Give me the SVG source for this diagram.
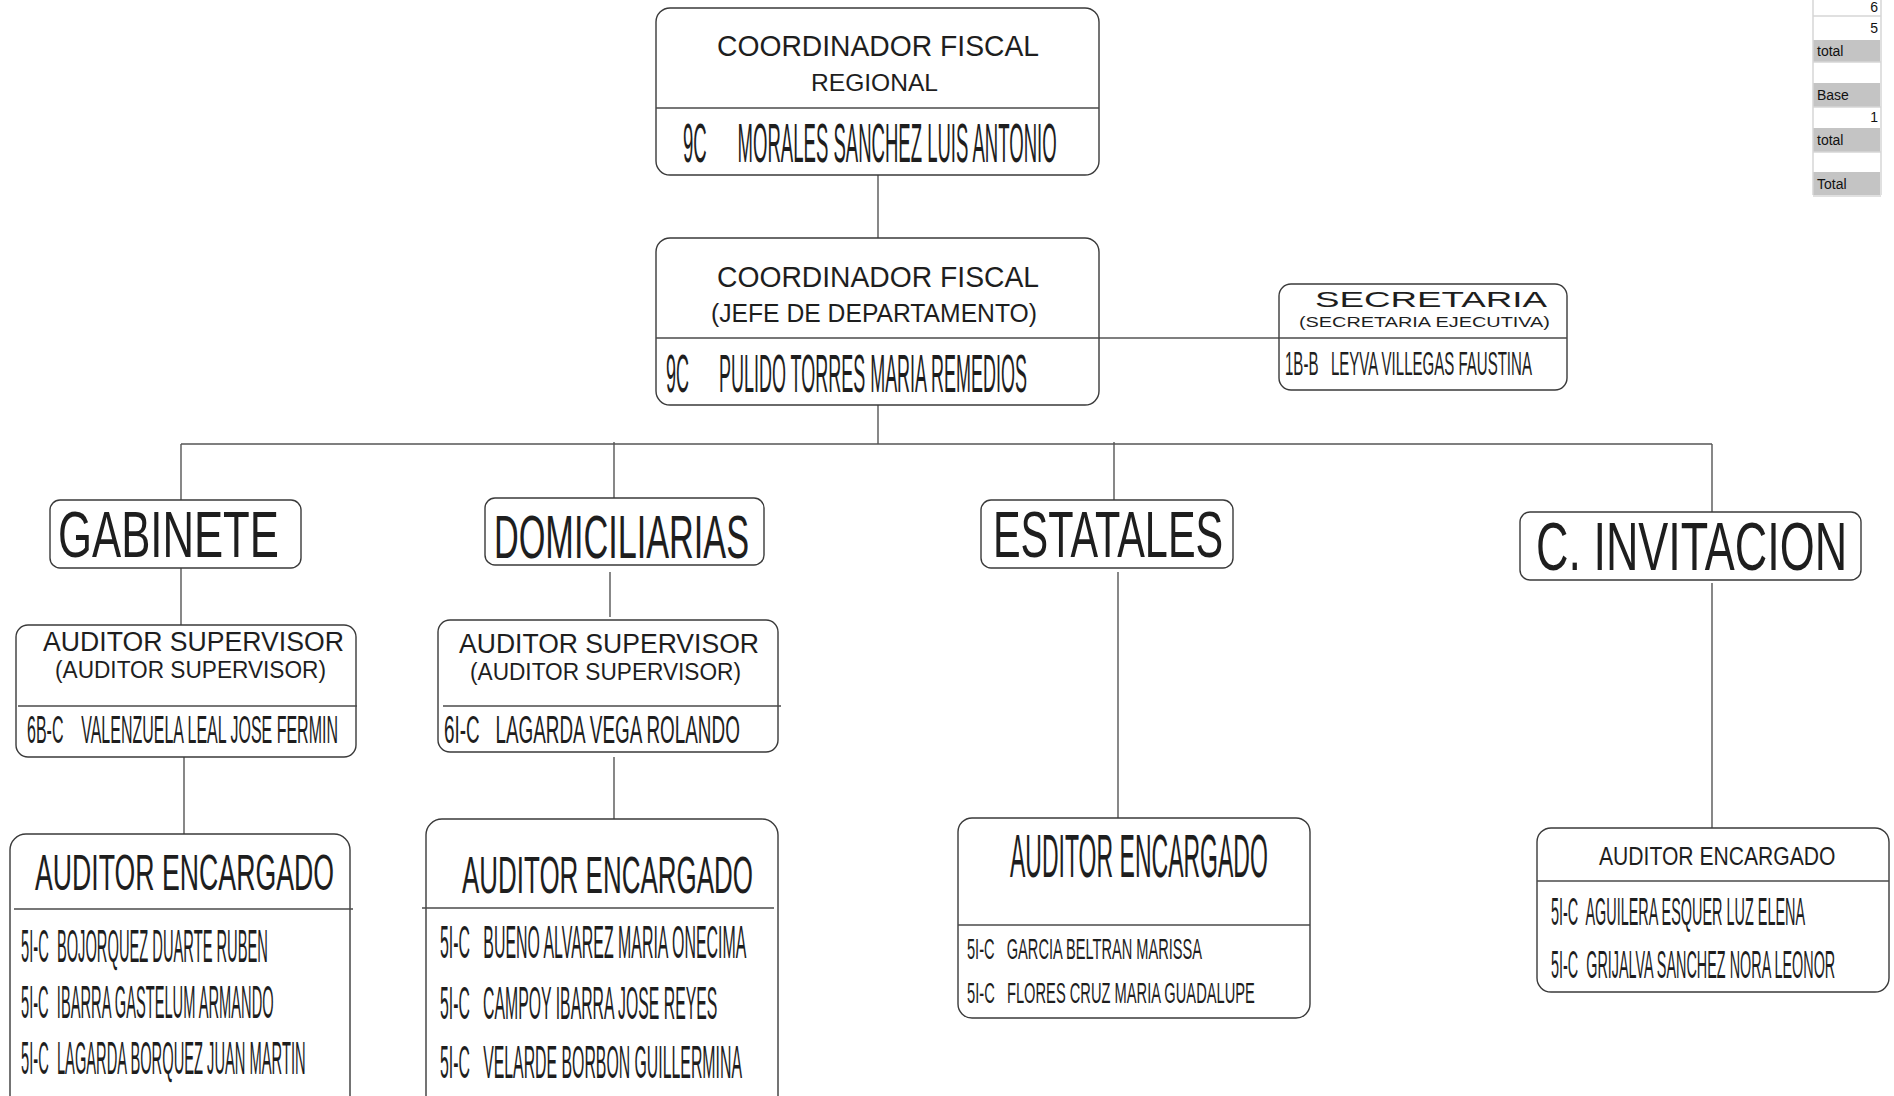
<svg xmlns="http://www.w3.org/2000/svg" width="1894" height="1096" viewBox="0 0 1894 1096">
<style>
.box{fill:#fff;stroke:#3a3a3a;stroke-width:1.4}
.div{stroke:#4a4a4a;stroke-width:1.4;fill:none}
.con{stroke:#555;stroke-width:1.4;fill:none}
text{font-family:"Liberation Sans",Arial,sans-serif;fill:#1e1e1e}
.tb{font-size:14px;fill:#111}
.gray{fill:#c4c4c4}
.grid{stroke:#d6d6d6;stroke-width:1.5;fill:none}
</style>
<rect width="1894" height="1096" fill="#fff"/>

<g id="connectors">
<line class="con" x1="878" y1="175" x2="878" y2="238"/>
<line class="con" x1="1099" y1="338" x2="1279" y2="338"/>
<line class="con" x1="878" y1="405" x2="878" y2="444"/>
<line class="con" x1="181" y1="444" x2="1712" y2="444"/>
<line class="con" x1="181" y1="444" x2="181" y2="500"/>
<line class="con" x1="614" y1="442" x2="614" y2="503"/>
<line class="con" x1="1114" y1="442" x2="1114" y2="503"/>
<line class="con" x1="1712" y1="444" x2="1712" y2="512"/>
<line class="con" x1="181" y1="568" x2="181" y2="625"/>
<line class="con" x1="610" y1="572" x2="610" y2="617"/>
<line class="con" x1="1118" y1="572" x2="1118" y2="818"/>
<line class="con" x1="1712" y1="583" x2="1712" y2="828"/>
<line class="con" x1="184" y1="752" x2="184" y2="834"/>
<line class="con" x1="614" y1="757" x2="614" y2="819"/>
</g>

<g id="table">
<rect class="gray" x="1813" y="40" width="67" height="22"/>
<rect class="gray" x="1813" y="83" width="67" height="24"/>
<rect class="gray" x="1813" y="128" width="67" height="24"/>
<rect class="gray" x="1813" y="172" width="67" height="23"/>
<line class="grid" x1="1813" y1="0" x2="1813" y2="195"/>
<line class="grid" x1="1881" y1="0" x2="1881" y2="195"/>
<line class="grid" x1="1813" y1="16" x2="1881" y2="16"/>
<line class="grid" x1="1813" y1="62" x2="1881" y2="62"/>
<line class="grid" x1="1813" y1="107" x2="1881" y2="107"/>
<line class="grid" x1="1813" y1="152" x2="1881" y2="152"/>
<line class="grid" x1="1813" y1="196" x2="1881" y2="196"/>
<text class="tb" x="1878" y="12" text-anchor="end">6</text>
<text class="tb" x="1878" y="33" text-anchor="end">5</text>
<text class="tb" x="1817" y="56">total</text>
<text class="tb" x="1817" y="100">Base</text>
<text class="tb" x="1878" y="122" text-anchor="end">1</text>
<text class="tb" x="1817" y="145">total</text>
<text class="tb" x="1817" y="189">Total</text>
</g>

<g id="coord-regional">
<rect class="box" x="656" y="8" width="443" height="167" rx="14"/>
<line class="div" x1="656" y1="108" x2="1099" y2="108"/>
<text x="717" y="56" font-size="30" textLength="322" lengthAdjust="spacingAndGlyphs">COORDINADOR FISCAL</text>
<text x="811" y="91" font-size="24" textLength="127" lengthAdjust="spacingAndGlyphs">REGIONAL</text>
<text xml:space="preserve" transform="translate(683,162) scale(0.336,1)" font-size="55" textLength="1112" lengthAdjust="spacingAndGlyphs">9C      MORALES SANCHEZ LUIS ANTONIO</text>
</g>

<g id="coord-jefe">
<rect class="box" x="656" y="238" width="443" height="167" rx="14"/>
<line class="div" x1="656" y1="338" x2="1099" y2="338"/>
<text x="717" y="287" font-size="30" textLength="322" lengthAdjust="spacingAndGlyphs">COORDINADOR FISCAL</text>
<text x="711" y="322" font-size="26" textLength="326" lengthAdjust="spacingAndGlyphs">(JEFE DE DEPARTAMENTO)</text>
<text xml:space="preserve" transform="translate(666,392) scale(0.3315,1)" font-size="54" textLength="1089" lengthAdjust="spacingAndGlyphs">9C      PULIDO TORRES MARIA REMEDIOS</text>
</g>

<g id="secretaria">
<rect class="box" x="1279" y="284" width="288" height="106" rx="12"/>
<line class="div" x1="1279" y1="338" x2="1567" y2="338"/>
<text transform="translate(1315,307) scale(1.6,1)" font-size="22" textLength="145" lengthAdjust="spacingAndGlyphs">SECRETARIA</text>
<text transform="translate(1299,327) scale(1.287,1)" font-size="15" textLength="195" lengthAdjust="spacingAndGlyphs">(SECRETARIA EJECUTIVA)</text>
<text xml:space="preserve" transform="translate(1285,375) scale(0.437,1)" font-size="34" textLength="565" lengthAdjust="spacingAndGlyphs">1B-B   LEYVA VILLEGAS FAUSTINA</text>
</g>

<g id="gabinete">
<rect class="box" x="50" y="500" width="251" height="68" rx="10"/>
<text transform="translate(58,557) scale(0.682,1)" font-size="64" textLength="324" lengthAdjust="spacingAndGlyphs">GABINETE</text>
</g>

<g id="domiciliarias">
<rect class="box" x="485" y="498" width="279" height="67" rx="10"/>
<text transform="translate(494,558) scale(0.552,1)" font-size="62" textLength="462" lengthAdjust="spacingAndGlyphs">DOMICILIARIAS</text>
</g>

<g id="estatales">
<rect class="box" x="981" y="500" width="252" height="68" rx="10"/>
<text transform="translate(993,557) scale(0.622,1)" font-size="64" textLength="370" lengthAdjust="spacingAndGlyphs">ESTATALES</text>
</g>

<g id="invitacion">
<rect class="box" x="1520" y="512" width="341" height="68" rx="10"/>
<text transform="translate(1536,570) scale(0.635,1)" font-size="68" textLength="490" lengthAdjust="spacingAndGlyphs">C. INVITACION</text>
</g>

<g id="supervisor-gabinete">
<rect class="box" x="16" y="625" width="340" height="132" rx="12"/>
<line class="div" x1="18" y1="706" x2="357" y2="706"/>
<text x="43" y="651" font-size="27" textLength="301" lengthAdjust="spacingAndGlyphs">AUDITOR SUPERVISOR</text>
<text x="55" y="678" font-size="23" textLength="271" lengthAdjust="spacingAndGlyphs">(AUDITOR SUPERVISOR)</text>
<text xml:space="preserve" transform="translate(27,743) scale(0.4065,1)" font-size="39" textLength="765" lengthAdjust="spacingAndGlyphs">6B-C    VALENZUELA LEAL JOSE FERMIN</text>
</g>

<g id="supervisor-domiciliarias">
<rect class="box" x="438" y="620" width="340" height="132" rx="12"/>
<line class="div" x1="443" y1="706" x2="781" y2="706"/>
<text x="459" y="653" font-size="27" textLength="300" lengthAdjust="spacingAndGlyphs">AUDITOR SUPERVISOR</text>
<text x="470" y="680" font-size="23" textLength="271" lengthAdjust="spacingAndGlyphs">(AUDITOR SUPERVISOR)</text>
<text xml:space="preserve" transform="translate(444,743) scale(0.481,1)" font-size="39" textLength="615" lengthAdjust="spacingAndGlyphs">6I-C   LAGARDA VEGA ROLANDO</text>
</g>

<g id="encargado-gabinete">
<rect class="box" x="10" y="834" width="340" height="280" rx="16"/>
<line class="div" x1="14" y1="909" x2="353" y2="909"/>
<text transform="translate(35,890) scale(0.533,1)" font-size="50" textLength="561" lengthAdjust="spacingAndGlyphs">AUDITOR ENCARGADO</text>
<text xml:space="preserve" transform="translate(21,962) scale(0.319,1)" font-size="46" textLength="774" lengthAdjust="spacingAndGlyphs">5I-C  BOJORQUEZ DUARTE RUBEN</text>
<text xml:space="preserve" transform="translate(21,1018) scale(0.317,1)" font-size="46" textLength="797" lengthAdjust="spacingAndGlyphs">5I-C  IBARRA GASTELUM ARMANDO</text>
<text xml:space="preserve" transform="translate(21,1074) scale(0.318,1)" font-size="46" textLength="895" lengthAdjust="spacingAndGlyphs">5I-C  LAGARDA BORQUEZ JUAN MARTIN</text>
</g>

<g id="encargado-domiciliarias">
<rect class="box" x="426" y="819" width="352" height="295" rx="16"/>
<line class="div" x1="422" y1="908" x2="774" y2="908"/>
<text transform="translate(462,893) scale(0.499,1)" font-size="52" textLength="583" lengthAdjust="spacingAndGlyphs">AUDITOR ENCARGADO</text>
<text xml:space="preserve" transform="translate(440,958) scale(0.334,1)" font-size="47" textLength="917" lengthAdjust="spacingAndGlyphs">5I-C   BUENO ALVAREZ MARIA ONECIMA</text>
<text xml:space="preserve" transform="translate(440,1019) scale(0.335,1)" font-size="47" textLength="828" lengthAdjust="spacingAndGlyphs">5I-C   CAMPOY IBARRA JOSE REYES</text>
<text xml:space="preserve" transform="translate(440,1078) scale(0.337,1)" font-size="47" textLength="896" lengthAdjust="spacingAndGlyphs">5I-C   VELARDE BORBON GUILLERMINA</text>
</g>

<g id="encargado-estatales">
<rect class="box" x="958" y="818" width="352" height="200" rx="14"/>
<line class="div" x1="958" y1="925" x2="1310" y2="925"/>
<text transform="translate(1010,877) scale(0.377,1)" font-size="61" textLength="684" lengthAdjust="spacingAndGlyphs">AUDITOR ENCARGADO</text>
<text xml:space="preserve" transform="translate(967,959) scale(0.5,1)" font-size="29" textLength="470" lengthAdjust="spacingAndGlyphs">5I-C   GARCIA BELTRAN MARISSA</text>
<text xml:space="preserve" transform="translate(967,1003) scale(0.505,1)" font-size="29" textLength="570" lengthAdjust="spacingAndGlyphs">5I-C   FLORES CRUZ MARIA GUADALUPE</text>
</g>

<g id="encargado-invitacion">
<rect class="box" x="1537" y="828" width="352" height="164" rx="14"/>
<line class="div" x1="1537" y1="881" x2="1889" y2="881"/>
<text transform="translate(1599,865) scale(0.81,1)" font-size="26" textLength="292" lengthAdjust="spacingAndGlyphs">AUDITOR ENCARGADO</text>
<text xml:space="preserve" transform="translate(1551,925) scale(0.377,1)" font-size="38" textLength="674" lengthAdjust="spacingAndGlyphs">5I-C  AGUILERA ESQUER LUZ ELENA</text>
<text xml:space="preserve" transform="translate(1551,978) scale(0.374,1)" font-size="38" textLength="760" lengthAdjust="spacingAndGlyphs">5I-C  GRIJALVA SANCHEZ NORA LEONOR</text>
</g>
</svg>
